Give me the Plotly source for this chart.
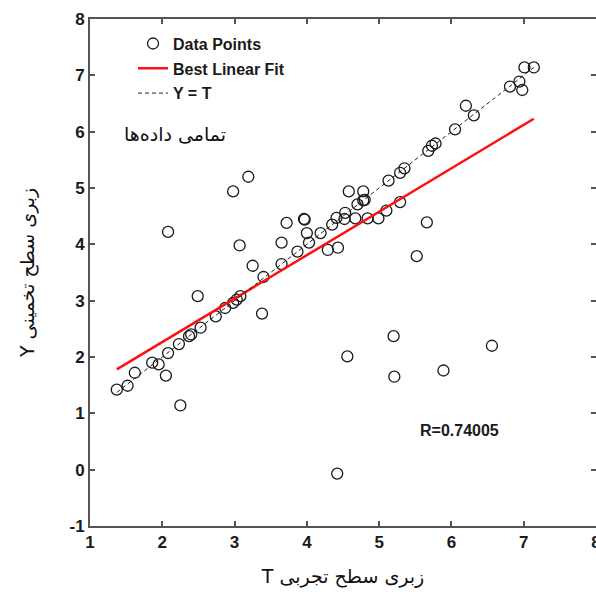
import plotly.graph_objects as go

# Data
t_vals = [1.37, 1.52, 1.62, 1.86, 1.95, 2.05, 2.08, 2.08, 2.25, 2.23, 2.37, 2.40, 2.49, 2.53,
          2.74, 2.87, 2.98, 3.03, 3.08, 2.98, 3.19, 3.07, 3.25, 3.38, 3.40, 3.65, 3.65, 3.72,
          3.87, 3.96, 3.97, 4.00, 4.03, 4.19, 4.29, 4.35, 4.43, 4.41, 4.52, 4.53, 4.58, 4.67,
          4.70, 4.78, 4.78, 4.80, 4.84, 4.99, 5.10, 5.13, 5.29, 5.29, 5.35, 5.66, 5.52, 5.20,
          4.56, 5.21, 5.89, 6.56, 4.42, 5.68, 5.73, 5.78, 6.05, 6.20, 6.31, 6.81, 6.94, 6.98,
          7.01, 7.14]
y_vals = [1.42, 1.49, 1.72, 1.90, 1.87, 1.67, 2.07, 4.22, 1.14, 2.23, 2.37, 2.40, 3.08, 2.52,
          2.72, 2.87, 2.96, 3.02, 3.08, 4.94, 5.20, 3.98, 3.62, 2.77, 3.42, 3.65, 4.03, 4.38,
          3.87, 4.45, 4.44, 4.20, 4.03, 4.20, 3.90, 4.35, 3.94, 4.47, 4.45, 4.56, 4.94, 4.46,
          4.71, 4.94, 4.78, 4.79, 4.46, 4.46, 4.60, 5.13, 4.75, 5.27, 5.35, 4.39, 3.79, 2.37,
          2.01, 1.65, 1.76, 2.20, -0.07, 5.66, 5.75, 5.79, 6.04, 6.46, 6.29, 6.80, 6.89, 6.74,
          7.14, 7.14]
fit_slope = 0.771
fit_intercept = 0.724
r_value = "R=0.74005"
x_ticks = [1, 2, 3, 4, 5, 6, 7, 8]
x_tick_text = ["1", "2", "3", "4", "5", "6", "7", "8"]
y_ticks = [-1, 0, 1, 2, 3, 4, 5, 6, 7, 8]
y_tick_text = ["-1", "0", "1", "2", "3", "4", "5", "6", "7", "8"]

t_min, t_max = min(t_vals), max(t_vals)

fig = go.Figure()
fig.add_trace(go.Scatter(
    x=t_vals, y=y_vals, mode="markers", name="Data Points",
    marker=dict(symbol="circle-open", size=11, color="#1a1a1a", line=dict(width=1.3)),
    legendgroup="a"))
fig.add_trace(go.Scatter(
    x=[t_min, t_max], y=[fit_slope * t_min + fit_intercept, fit_slope * t_max + fit_intercept],
    mode="lines", name="Best Linear Fit", line=dict(color="#ff1010", width=2.5),
    legendgroup="b"))
fig.add_trace(go.Scatter(
    x=[t_min, t_max], y=[t_min, t_max], mode="lines", name="Y = T",
    line=dict(color="#222222", width=1, dash="4px,3px"), legendgroup="c"))

tickfont = dict(family="Liberation Sans, Arial", size=17, color="#1a1a1a", weight="bold")
axis_common = dict(showgrid=False, zeroline=False, showline=True, linecolor="#555555",
                   linewidth=2, mirror="ticks", ticks="inside", ticklen=5, tickwidth=1.5,
                   tickcolor="#555555", tickfont=tickfont, ticklabeloverflow="allow",
                   automargin=False)

fig.update_xaxes(range=[1, 8], tickvals=x_ticks, ticktext=x_tick_text, **axis_common,
                 title=dict(text="T زبری سطح تجربی",
                            font=dict(family="DejaVu Sans", size=19, color="#111111"),
                            standoff=18))
fig.update_yaxes(range=[-1, 8], tickvals=y_ticks, ticktext=y_tick_text, **axis_common,
                 title=dict(text="Y زبری سطح تخمینی",
                            font=dict(family="DejaVu Sans", size=19, color="#111111"),
                            standoff=30))

fig.add_annotation(x=2.18, y=5.95, xref="x", yref="y", text="تمامی داده‌ها", showarrow=False,
                   font=dict(family="DejaVu Sans", size=19, color="#111111"))
fig.add_annotation(x=6.11, y=0.70, xref="x", yref="y", text=r_value, showarrow=False,
                   font=dict(family="Liberation Sans, Arial", size=16, color="#1a1a1a",
                             weight="bold"))

fig.update_layout(
    width=596, height=592,
    margin=dict(l=90, r=0, t=19, b=66, autoexpand=False),
    plot_bgcolor="white", paper_bgcolor="white",
    showlegend=True,
    legend=dict(x=0.085, y=0.985, xanchor="left", yanchor="top",
                bgcolor="rgba(0,0,0,0)", borderwidth=0, tracegroupgap=1,
                font=dict(family="Liberation Sans, Arial", size=16, color="#1a1a1a",
                          weight="bold")),
)

fig.write_html("out.html")
